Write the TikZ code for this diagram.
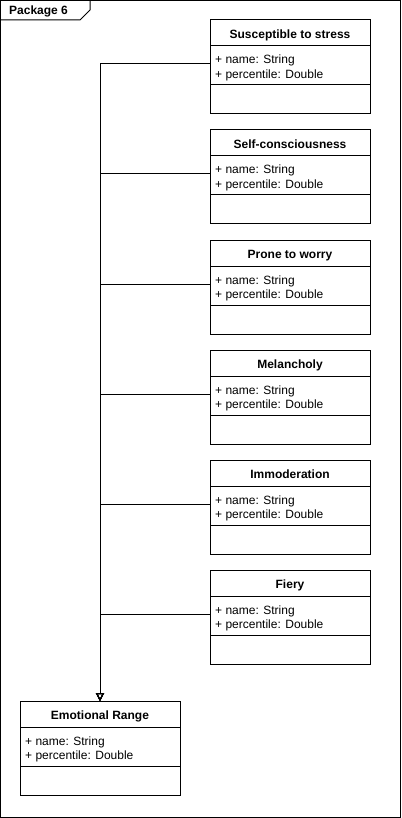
\documentclass[tikz,border=0pt]{standalone}
\usepackage{fontspec}
\setmainfont{Liberation Sans}
\usetikzlibrary{arrows.meta}
\tikzset{
  frame/.style={draw=black,line width=1pt},
  classbox/.style={draw=black,line width=1pt,fill=white,minimum width=160pt,minimum height=94pt,inner sep=0pt,outer sep=0pt},
  divider/.style={draw=black,line width=1pt},
  titletext/.style={font=\fontsize{12}{14}\selectfont\bfseries,inner sep=0pt,anchor=base},
  attrtext/.style={font=\fontsize{12}{14}\selectfont,inner sep=0pt,anchor=base west},
  pkgtext/.style={font=\fontsize{12}{14}\selectfont\bfseries,inner sep=0pt,anchor=base west},
  genarrow/.style={draw=black,line width=1pt,-{Triangle[open,length=8pt,width=8pt,line width=1pt]}},
}
\newcommand{\umlclassbox}[4]{% name, x-left, y-top, title
  \node[classbox,anchor=north west] (#1) at (#2,#3) {};
  \draw[divider] (#2,#3+26) -- (#2+160,#3+26);
  \draw[divider] (#2,#3+65) -- (#2+160,#3+65);
  \node[titletext] (#1-t) at (#2+80,#3+18.5) {#4};
  \node[attrtext] (#1-a) at (#2+5,#3+44) {+ name: String};
  \node[attrtext] (#1-b) at (#2+5,#3+58.5) {+ percentile: Double};
  \coordinate (#1-in) at (#2,#3+44);
}
\begin{document}
\begin{tikzpicture}[x=1pt,y=-1pt]
\useasboundingbox (0,0) rectangle (401,818);
\path[frame] (0.5,0.5) rectangle (400,817.5);
\path[frame] (0.5,0.5) -- (90,0.5) -- (90,10) -- (80,20) -- (0.5,20);
\node[pkgtext] (pkg) at (9,15) {Package 6};
\umlclassbox{c1}{210}{20}{Susceptible to stress}
\umlclassbox{c2}{210}{130}{Self-consciousness}
\umlclassbox{c3}{210}{240}{Prone to worry}
\umlclassbox{c4}{210}{350}{Melancholy}
\umlclassbox{c5}{210}{460}{Immoderation}
\umlclassbox{c6}{210}{570}{Fiery}
\umlclassbox{er}{20}{701}{Emotional Range}
\foreach \c in {c1,c2,c3,c4,c5,c6}{
  \draw[genarrow] (\c-in) -| (er.north);
}
\end{tikzpicture}
\end{document}
